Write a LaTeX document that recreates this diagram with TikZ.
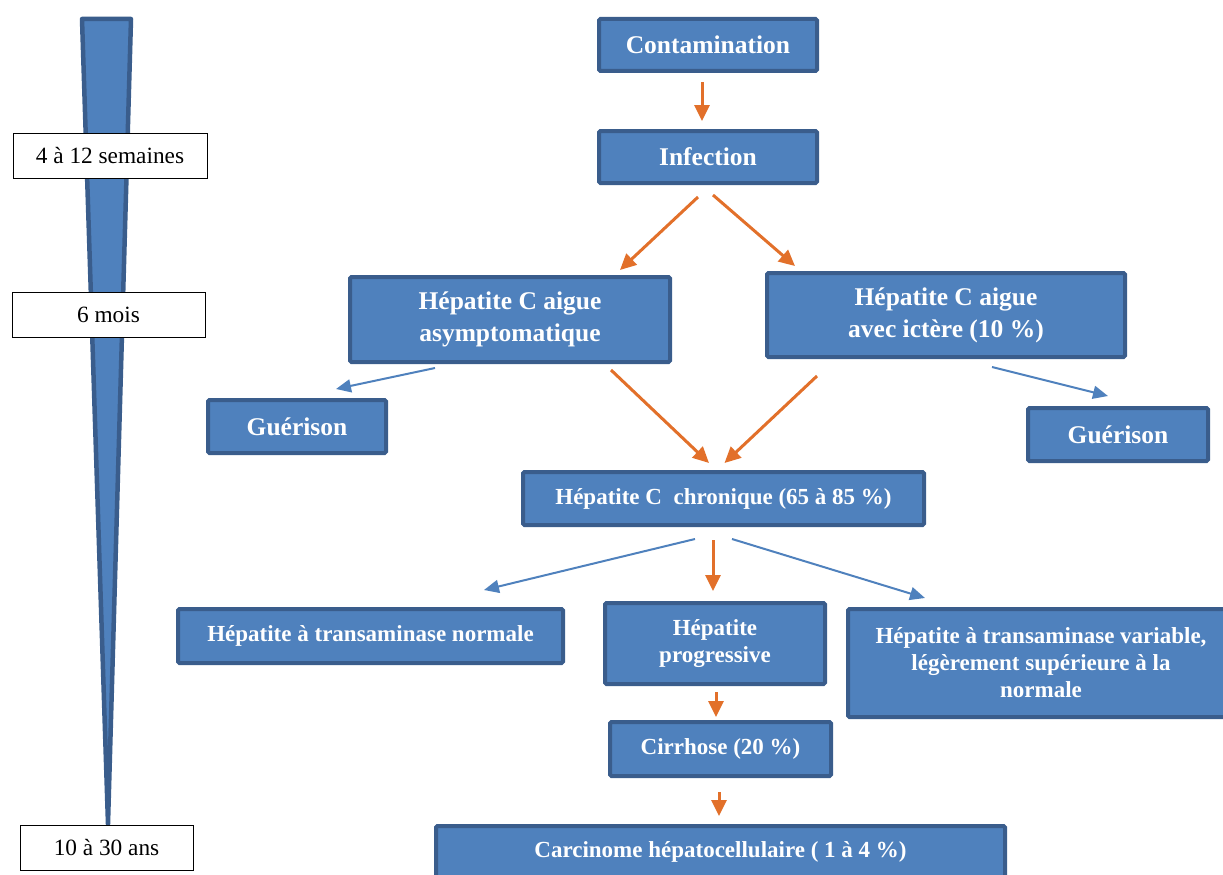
\documentclass[tikz,border=0pt]{standalone}
\usepackage{fontspec}
\setmainfont{Liberation Serif}
\usetikzlibrary{calc,arrows.meta}
\definecolor{boxfill}{HTML}{4F81BD}
\definecolor{boxline}{HTML}{3A5D8C}
\definecolor{orangearr}{HTML}{E2702A}
\definecolor{bluearr}{HTML}{4F81BD}
\begin{document}
\begin{tikzpicture}[x=1pt,y=-1pt,
  bluebox/.style={draw=boxline,fill=boxfill,line width=4pt,rounded corners=1.5pt,
    text=white,font=\bfseries\fontsize{25.5}{32}\selectfont,align=center,inner sep=0pt},
  smallbox/.style={bluebox,font=\bfseries\fontsize{23}{27}\selectfont},
  timebox/.style={draw=black,fill=white,line width=0.8pt,font=\fontsize{23.3}{27}\selectfont,inner sep=0pt},
  oarr/.style={draw=orangearr,line width=3pt,-{Triangle[length=16pt,width=15pt]}},
  barr/.style={draw=bluearr,line width=2pt,-{Triangle[length=15pt,width=13pt]}}]
\useasboundingbox (0,0) rectangle (1223,875);
\clip (0,0) rectangle (1223,875);
% time wedge
\filldraw[draw=boxline,fill=boxfill,line width=4.5pt,line join=round] (82,19) -- (131,19) -- (108,824) -- cycle;
% time labels
\node[timebox,minimum width=194pt,minimum height=45pt] (sem) at (110,155.5) {4 à 12 semaines};
\node[timebox,minimum width=193pt,minimum height=45pt] (mois) at (108.5,314.5) {6 mois};
\node[timebox,minimum width=173pt,minimum height=45pt] (ans) at (106.5,847.5) {10 à 30 ans};
% boxes
\node[bluebox,minimum width=218pt,minimum height=52pt] (cont) at (708,45) {Contamination};
\node[bluebox,minimum width=218pt,minimum height=52pt] (inf) at (708,157) {Infection};
\node[bluebox,minimum width=320pt,minimum height=85pt] (asym) at (510,319.5) {Hépatite C aigue\\asymptomatique};
\node[bluebox,minimum width=358pt,minimum height=84pt] (ict) at (946,315) {Hépatite C aigue\\avec ictère (10 \%)};
\node[bluebox,minimum width=178pt,minimum height=53pt] (gl) at (297,426.5) {Guérison};
\node[bluebox,minimum width=180pt,minimum height=53pt] (gr) at (1118,434.5) {Guérison};
\node[smallbox,minimum width=401pt,minimum height=53pt] (chr) at (723.5,498.5) {Hépatite C\ \ chronique (65 à 85 \%)};
\node[smallbox,minimum width=385pt,minimum height=54pt] (tn) at (370.5,636) {Hépatite à transaminase normale};
\node[smallbox,minimum width=220pt,minimum height=81pt] (prog) at (715,643.5) {Hépatite\\progressive};
\node[smallbox,minimum width=386pt,minimum height=108pt] (var) at (1041,663) {Hépatite à transaminase variable,\\légèrement supérieure à la\\normale};
\node[smallbox,minimum width=221pt,minimum height=54pt] (cir) at (720.5,749) {Cirrhose (20 \%)};
\node[smallbox,minimum width=569pt,minimum height=52pt] (car) at (720.5,852) {Carcinome hépatocellulaire ( 1 à 4 \%)};
% orange connectors
\draw[oarr] ($(cont.south)+(-6,9)$) -- ($(inf.north)+(-6,-8)$);
\draw[oarr] ($(inf.south)+(-10,12)$) -- ($(asym.north)+(110,-5)$);
\draw[oarr] ($(inf.south)+(5,10)$) -- ($(ict.north)+(-151,-5)$);
\draw[oarr] ($(asym.south)+(101,6)$) -- ($(chr.north)+(-14.5,-7)$);
\draw[oarr] ($(ict.south)+(-129,17)$) -- ($(chr.north)+(1,-7)$);
\draw[oarr] ($(chr.south)+(-10.5,13)$) -- ($(prog.north)+(-2,-10)$);
\draw[oarr] ($(prog.south)+(1,6)$) -- ($(cir.north)+(-4.5,-3)$);
\draw[oarr] ($(cir.south)+(-1.5,14)$) -- ($(car.north)+(-1.5,-8)$);
% blue connectors
\draw[barr] ($(asym.south)+(-75,4)$) -- ($(gl.north)+(39,-9)$);
\draw[barr] ($(ict.south)+(46,8)$) -- ($(gr.north)+(-10,-10)$);
\draw[barr] ($(chr.south)+(-28.5,12)$) -- ($(tn.north)+(113.5,-17)$);
\draw[barr] ($(chr.south)+(8.5,12)$) -- ($(var.north)+(-116,-9)$);
\end{tikzpicture}
\end{document}
